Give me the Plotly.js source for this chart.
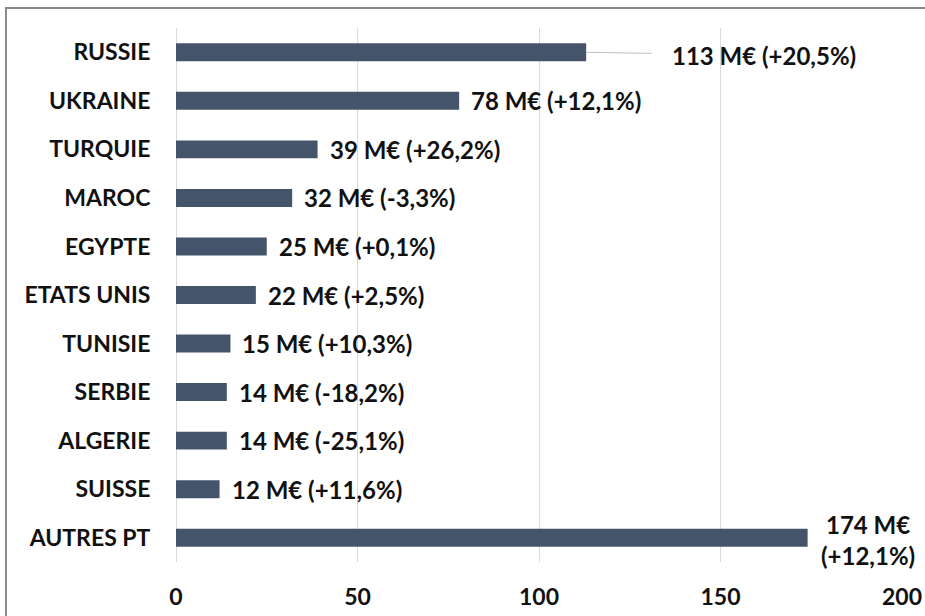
<!DOCTYPE html>
<html>
<head>
<meta charset="utf-8">
<script src="https://cdn.plot.ly/plotly-3.0.1.min.js"></script>
<style>
  html, body { margin: 0; padding: 0; background: #ffffff; }
  #chart { width: 925px; height: 616px; }
</style>
</head>
<body>
<div id="chart"></div>
<script>
const categories = ['RUSSIE', 'UKRAINE', 'TURQUIE', 'MAROC', 'EGYPTE', 'ETATS UNIS', 'TUNISIE', 'SERBIE', 'ALGERIE', 'SUISSE', 'AUTRES PT'];
const values = [113, 78, 39, 32, 25, 22, 15, 14, 14, 12, 174];
const changes = ['+20,5%', '+12,1%', '+26,2%', '-3,3%', '+0,1%', '+2,5%', '+10,3%', '-18,2%', '-25,1%', '+11,6%', '+12,1%'];
const xTicks = [0, 50, 100, 150, 200];

const FONT = 'Lato, "Open Sans", "DejaVu Sans", sans-serif';
const TXT = '#111111';

const annotations = categories.map((c, i) => {
  const base = {
    x: values[i], y: c, xref: 'x', yref: 'y',
    font: { family: FONT, size: 24, color: TXT, weight: 'bold' },
    showarrow: false
  };
  if (c === 'RUSSIE') {
    return Object.assign(base, {
      text: values[i] + ' M€ (' + changes[i] + ')',
      showarrow: true, arrowhead: 0, arrowwidth: 1, arrowcolor: '#bfbfbf',
      ax: 178, ay: 3, borderpad: 20
    });
  }
  if (c === 'AUTRES PT') {
    return Object.assign(base, {
      text: values[i] + ' M€<br>(' + changes[i] + ')',
      xanchor: 'left', xshift: 11, align: 'center', yshift: -2
    });
  }
  return Object.assign(base, {
    text: values[i] + ' M€ (' + changes[i] + ')',
    xanchor: 'left', xshift: 10
  });
});

const data = [{
  type: 'bar',
  orientation: 'h',
  x: values,
  y: categories,
  marker: { color: '#44546a' },
  hoverinfo: 'x+y'
}];

const layout = {
  width: 925, height: 616,
  margin: { l: 176, r: 23, t: 28, b: 54, autoexpand: false },
  paper_bgcolor: '#ffffff', plot_bgcolor: '#ffffff',
  bargap: 0.63,
  showlegend: false,
  font: { family: FONT, size: 22, color: TXT, weight: 'bold' },
  xaxis: {
    range: [0, 200], tickvals: xTicks, ticktext: xTicks.map(String),
    automargin: false,
    showgrid: true, gridcolor: '#d9d9d9', gridwidth: 1,
    zeroline: true, zerolinecolor: '#d9d9d9', zerolinewidth: 1,
    showline: false,
    ticks: 'outside', ticklen: 14, tickcolor: 'rgba(0,0,0,0)',
    tickfont: { family: FONT, size: 23, color: TXT, weight: 'bold' },
    fixedrange: true
  },
  yaxis: {
    type: 'category',
    range: [categories.length - 0.5, -0.5],
    automargin: false,
    showgrid: false, zeroline: false, showline: false,
    ticks: 'outside', ticklen: 20, tickcolor: 'rgba(0,0,0,0)',
    tickfont: { family: FONT, size: 23, color: TXT, weight: 'bold' },
    fixedrange: true
  },
  annotations: annotations,
  shapes: [{
    type: 'rect', xref: 'paper', yref: 'paper',
    x0: -0.2342, x1: 2, y0: -2, y1: 1.0375,
    line: { color: '#898989', width: 2 }, fillcolor: 'rgba(0,0,0,0)', layer: 'above'
  }]
};

Plotly.newPlot('chart', data, layout, { displayModeBar: false, staticPlot: true });
</script>
</body>
</html>
